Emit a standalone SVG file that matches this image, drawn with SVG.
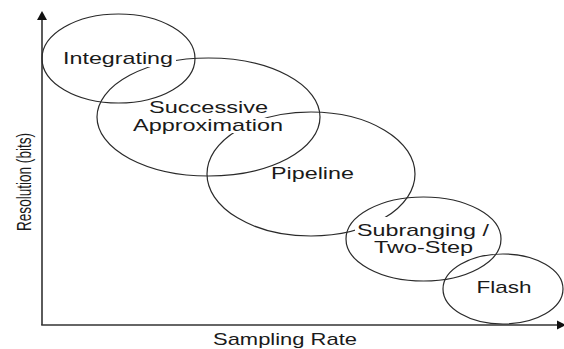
<svg xmlns="http://www.w3.org/2000/svg" width="564" height="349" viewBox="0 0 564 349">
<defs>
<style>
.e{fill:none;stroke:#2a2a2a;stroke-width:1.2}
.m{fill:#fff;stroke:none}
.t{font-family:"Liberation Sans",Arial,sans-serif;font-size:17px;fill:#1a1a1a;text-anchor:middle}
.ax{stroke:#333;stroke-width:1.6;fill:none}
.ah{fill:#111}
</style>
</defs>
<rect width="564" height="349" fill="#fff"/>
<g id="connectors">
<line class="ax" x1="42" y1="19" x2="42" y2="325"/>
<line class="ax" x1="41.2" y1="325" x2="558" y2="325"/>
<polygon class="ah" points="42,11 37,20 47,20"/>
<polygon class="ah" points="566,325 557,320.5 557,329.5"/>
</g>
<g id="pipeline">
<ellipse class="e" cx="311" cy="174" rx="104" ry="62"/>
<text class="t" x="312.5" y="179.3" textLength="83" lengthAdjust="spacingAndGlyphs">Pipeline</text>
</g>
<g id="successive-approximation">
<rect class="m" x="147" y="98" width="123" height="18"/>
<rect class="m" x="131" y="118" width="154" height="15"/>
<ellipse class="e" cx="208.5" cy="117" rx="111.5" ry="59"/>
<text class="t" x="208.5" y="112.7" textLength="119" lengthAdjust="spacingAndGlyphs">Successive</text>
<text class="t" x="208" y="130.5" textLength="150" lengthAdjust="spacingAndGlyphs">Approximation</text>
</g>
<g id="integrating">
<rect class="m" x="61" y="48" width="115" height="19"/>
<ellipse class="e" cx="118.5" cy="58.5" rx="76.5" ry="44.5"/>
<text class="t" x="118" y="64" textLength="110" lengthAdjust="spacingAndGlyphs">Integrating</text>
</g>
<g id="subranging">
<rect class="m" x="355" y="217" width="136" height="23"/>
<ellipse class="e" cx="423.5" cy="239" rx="77.5" ry="42"/>
<text class="t" x="423" y="235.7" textLength="132" lengthAdjust="spacingAndGlyphs">Subranging /</text>
<text class="t" x="423.5" y="253.3" textLength="99" lengthAdjust="spacingAndGlyphs">Two-Step</text>
</g>
<g id="flash">
<ellipse class="e" cx="503" cy="289" rx="60" ry="35"/>
<text class="t" x="504" y="293.3" textLength="55" lengthAdjust="spacingAndGlyphs">Flash</text>
</g>
<g id="labels">
<text class="t" x="285" y="344.7" textLength="144" lengthAdjust="spacingAndGlyphs">Sampling Rate</text>
<text class="t" transform="translate(31,182) rotate(-90) scale(1,1.45)" x="0" y="0" style="font-size:14px" textLength="98" lengthAdjust="spacingAndGlyphs">Resolution (bits)</text>
</g>
</svg>
